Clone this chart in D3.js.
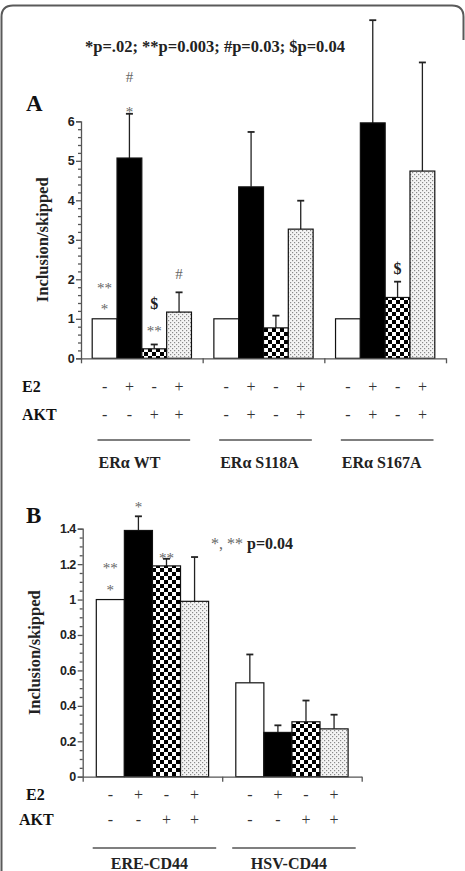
<!DOCTYPE html>
<html><head><meta charset="utf-8">
<script src="https://cdn.jsdelivr.net/npm/d3@7"></script>
<style>
html,body{margin:0;padding:0;background:#fff;}
svg{display:block;}
</style></head>
<body>
<script>
// ---------- DATA ----------
const conditions = ["E2-/AKT-", "E2+/AKT-", "E2-/AKT+", "E2+/AKT+"];

// Panel A
const groupsA = ["ERα WT", "ERα S118A", "ERα S167A"];
const meansA = [
  [1.00, 5.07, 0.24, 1.17],
  [1.00, 4.34, 0.77, 3.27],
  [1.00, 5.96, 1.54, 4.74]
];
const errA = [
  [0, 1.12, 0.11, 0.50],
  [0, 1.39, 0.31, 0.72],
  [0, 2.60, 0.40, 2.75]
];
const ticksA = [0, 1, 2, 3, 4, 5, 6];
const e2A = [["-", "+", "-", "+"], ["-", "+", "-", "+"], ["-", "+", "-", "+"]];
const aktA = [["-", "-", "+", "+"], ["-", "+", "-", "+"], ["-", "+", "-", "+"]];
const titleA = "*p=.02; **p=0.003; #p=0.03; $p=0.04";

// Panel B
const groupsB = ["ERE-CD44", "HSV-CD44"];
const meansB = [
  [1.00, 1.39, 1.19, 0.99],
  [0.53, 0.25, 0.31, 0.27]
];
const errB = [
  [0, 0.08, 0.04, 0.25],
  [0.16, 0.04, 0.12, 0.08]
];
const ticksB = [0, 0.2, 0.4, 0.6, 0.8, 1, 1.2, 1.4];
const tickLabelsB = ["0", "0.2", "0.4", "0.6", "0.8", "1", "1.2", "1.4"];
const e2B = [["-", "+", "-", "+"], ["-", "+", "-", "+"]];
const aktB = [["-", "-", "+", "+"], ["-", "-", "+", "+"]];

// significance marks: [group, condition, text, kind]
const marksA = [
  [0, 0, "*", "g"], [0, 0, "**", "g"],
  [0, 1, "*", "g"], [0, 1, "#", "g"],
  [0, 2, "**", "g"], [0, 2, "$", "b"],
  [0, 3, "#", "g"],
  [2, 2, "$", "b"]
];
const marksB = [
  [0, 0, "*", "g"], [0, 0, "**", "g"],
  [0, 1, "*", "g"],
  [0, 2, "**", "g"]
];
// ---------- STYLE ----------
const W = 465, H = 871;
const serif = "'Liberation Serif','Times New Roman',serif";
const sans = "'Liberation Sans',Arial,sans-serif";
const markOffsets = {
  A: [[-12, -33], [-4, -32], [-15, -35], [-13], [], [], [], [], [], [], [-8]],
  B: [[-12, -34], [-11], [-3]]
};

const svg = d3.select("body").append("svg").attr("width", W).attr("height", H);

// patterns
const defs = svg.append("defs");
const chk = defs.append("pattern").attr("id", "chk").attr("patternUnits", "userSpaceOnUse")
  .attr("width", 8).attr("height", 8);
chk.append("rect").attr("width", 8).attr("height", 8).attr("fill", "#fff");
chk.append("rect").attr("width", 4).attr("height", 4).attr("fill", "#000");
chk.append("rect").attr("x", 4).attr("y", 4).attr("width", 4).attr("height", 4).attr("fill", "#000");
const dot = defs.append("pattern").attr("id", "dot").attr("patternUnits", "userSpaceOnUse")
  .attr("width", 4).attr("height", 4);
dot.append("rect").attr("width", 4).attr("height", 4).attr("fill", "#f4f4f4");
dot.append("rect").attr("x", 0).attr("y", 0).attr("width", 1.2).attr("height", 1.2).attr("fill", "#8a8a8a");
dot.append("rect").attr("x", 2).attr("y", 2).attr("width", 1.2).attr("height", 1.2).attr("fill", "#8a8a8a");
const fills = ["#fff", "#000", "url(#chk)", "url(#dot)"];

// frame
svg.append("path")
  .attr("d", "M1.5,871 L1.5,17 Q1.5,5.5 13,5.5 L452,5.5 Q463.5,5.5 463.5,17 L463.5,40")
  .attr("fill", "none").attr("stroke", "#5a5a5a").attr("stroke-width", 2);

function panel(cfg) {
  const {groups, means, errs, ticks, tickLabels, minorStep, yDomain, yRange, xRange, inner, e2, akt, rows, lineOff, labelCfg, marks, offs} = cfg;
  const y = d3.scaleLinear().domain(yDomain).range(yRange);
  const x0 = d3.scaleBand().domain(groups).range(xRange);
  const x1 = d3.scaleBand().domain(conditions).range([inner, x0.bandwidth() - inner]);
  const g = svg.append("g");

  // bars
  groups.forEach((gr, gi) => {
    conditions.forEach((c, ci) => {
      const v = means[gi][ci], e = errs[gi][ci];
      const bx = x0(gr) + x1(c), bw = x1.bandwidth();
      const cx = bx + bw / 2;
      if (e > 0) {
        g.append("line").attr("x1", cx).attr("x2", cx).attr("y1", y(v)).attr("y2", y(v + e))
          .attr("stroke", "#222").attr("stroke-width", 1.3);
        g.append("line").attr("x1", cx - 3.5).attr("x2", cx + 3.5).attr("y1", y(v + e)).attr("y2", y(v + e))
          .attr("stroke", "#222").attr("stroke-width", 1.8);
      }
      g.append("rect").attr("x", bx).attr("y", y(v)).attr("width", bw).attr("height", y(0) - y(v))
        .attr("fill", fills[ci]).attr("stroke", "#111").attr("stroke-width", 1.2);
    });
  });

  // y axis
  const minor = d3.range(yDomain[0], yDomain[1] + 1e-9, minorStep).filter(v => !ticks.some(t => Math.abs(t - v) < 1e-6));
  const ya = g.append("g").attr("transform", `translate(${xRange[0]},0)`)
    .call(d3.axisLeft(y).tickValues(ticks).tickSize(5).tickPadding(2).tickFormat((d, i) => tickLabels ? tickLabels[i] : d));
  ya.selectAll("text").attr("font-family", sans).attr("font-weight", "bold").attr("font-size", 12.5)
    .attr("letter-spacing", "-0.6").attr("fill", "#222");
  const ym = g.append("g").attr("transform", `translate(${xRange[0]},0)`)
    .call(d3.axisLeft(y).tickValues(minor).tickSize(3).tickFormat(""));
  ym.select(".domain").remove();
  g.selectAll(".domain, .tick line").attr("stroke", "#555").attr("stroke-width", 1.3);

  // x axis
  const xe = d3.scaleLinear().domain([0, groups.length]).range(xRange);
  const xa = g.append("g").attr("transform", `translate(0,${y(0)})`)
    .call(d3.axisBottom(xe).tickValues(d3.range(groups.length + 1)).tickSize(5).tickSizeOuter(0).tickFormat(""));
  xa.selectAll(".domain, .tick line").attr("stroke", "#555").attr("stroke-width", 1.3);

  // y title
  g.append("text").attr("transform", `translate(${cfg.yTitleX},${(yRange[0] + yRange[1]) / 2}) rotate(-90)`)
    .attr("text-anchor", "middle").attr("font-family", serif).attr("font-weight", "bold")
    .attr("font-size", 16.5).attr("fill", "#222").text("Inclusion/skipped");

  // panel letter
  g.append("text").attr("x", 26).attr("y", cfg.letterY).attr("font-family", serif).attr("font-weight", "bold")
    .attr("font-size", 23).attr("fill", "#111").text(cfg.letter);

  // E2 / AKT rows
  g.append("text").attr("x", cfg.e2X).attr("y", rows[0]).attr("font-family", serif).attr("font-weight", "bold")
    .attr("font-size", 16).attr("fill", "#111").text("E2");
  g.append("text").attr("x", cfg.aktX).attr("y", rows[1]).attr("font-family", serif).attr("font-weight", "bold")
    .attr("font-size", 16).attr("fill", "#111").text("AKT");
  groups.forEach((gr, gi) => {
    conditions.forEach((c, ci) => {
      const cx = x0(gr) + x1(c) + x1.bandwidth() / 2;
      [e2[gi][ci], akt[gi][ci]].forEach((s, ri) => {
        g.append("text").attr("x", cx).attr("y", rows[ri]).attr("text-anchor", "middle")
          .attr("font-family", serif).attr("font-size", 16).attr("fill", "#333").text(s);
      });
    });
    g.append("line").attr("x1", x0(gr) + lineOff[0]).attr("x2", x0(gr) + x0.bandwidth() - lineOff[1])
      .attr("y1", rows[2]).attr("y2", rows[2]).attr("stroke", "#555").attr("stroke-width", 1.5);
    const lt = g.append("text").attr("y", rows[3]).attr("font-family", serif).attr("font-weight", "bold")
      .attr("font-size", 16).attr("fill", "#222");
    if (labelCfg.anchor === "start") lt.attr("x", x0(gr) + labelCfg.off).attr("text-anchor", "start");
    else lt.attr("x", x0(gr) + x0.bandwidth() / 2 + labelCfg.off).attr("text-anchor", "middle");
    lt.text(gr);
  });

  // significance marks
  const used = {};
  marks.forEach(([gi, ci, t, kind]) => {
    const key = gi * 4 + ci;
    used[key] = (used[key] || 0);
    const top = y(means[gi][ci] + errs[gi][ci]);
    const off = offs[key][used[key]];
    used[key]++;
    const cx = x0(groups[gi]) + x1(conditions[ci]) + x1.bandwidth() / 2;
    const tt = g.append("text").attr("x", cx).attr("y", top + off + (t.includes("*") ? 7 : 0))
      .attr("text-anchor", "middle").attr("font-family", serif).text(t);
    if (kind === "b") tt.attr("font-weight", "bold").attr("font-size", 16).attr("fill", "#222");
    else tt.attr("font-size", 15).attr("fill", "#666");
  });
  return {x0, x1, y, g};
}

// map offsets to group*4+cond keys
function offsetTable(list, keys) {
  const o = {};
  keys.forEach((k, i) => o[k] = list[i]);
  return o;
}

const pA = panel({
  groups: groupsA, means: meansA, errs: errA, ticks: ticksA, tickLabels: null, minorStep: 0.2,
  yDomain: [0, 6], yRange: [358.3, 121.3], xRange: [81, 446], inner: 11.2,
  e2: e2A, akt: aktA, rows: [392, 420, 440, 468], lineOff: [16.5, 12.5], labelCfg: {anchor: "start", off: 17.5},
  marks: marksA,
  offs: offsetTable([[-12, -33], [-4, -32], [-15, -35], [-13], [-8]], [0, 1, 2, 3, 10]),
  yTitleX: 48, letter: "A", letterY: 111, e2X: 22, aktX: 22
});
svg.append("text").attr("x", 215).attr("y", 52).attr("text-anchor", "middle")
  .attr("font-family", serif).attr("font-weight", "bold").attr("font-size", 16.5).attr("fill", "#222")
  .text(titleA);

const pB = panel({
  groups: groupsB, means: meansB, errs: errB, ticks: ticksB, tickLabels: tickLabelsB, minorStep: 0.05,
  yDomain: [0, 1.4], yRange: [776.7, 528.7], xRange: [82.7, 361.7], inner: 13.6,
  e2: e2B, akt: aktB, rows: [800, 825, 848, 869], lineOff: [10, 6], labelCfg: {anchor: "middle", off: -3},
  marks: marksB,
  offs: offsetTable([[-12, -34], [-11], [-3]], [0, 1, 2]),
  yTitleX: 40, letter: "B", letterY: 523, e2X: 26, aktX: 19
});
const noteB = svg.append("text").attr("x", 211).attr("y", 549).attr("font-family", serif).attr("font-size", 16);
noteB.append("tspan").attr("fill", "#666").text("*, ** ");
noteB.append("tspan").attr("font-weight", "bold").attr("fill", "#222").text("p=0.04");
</script>
</body></html>
